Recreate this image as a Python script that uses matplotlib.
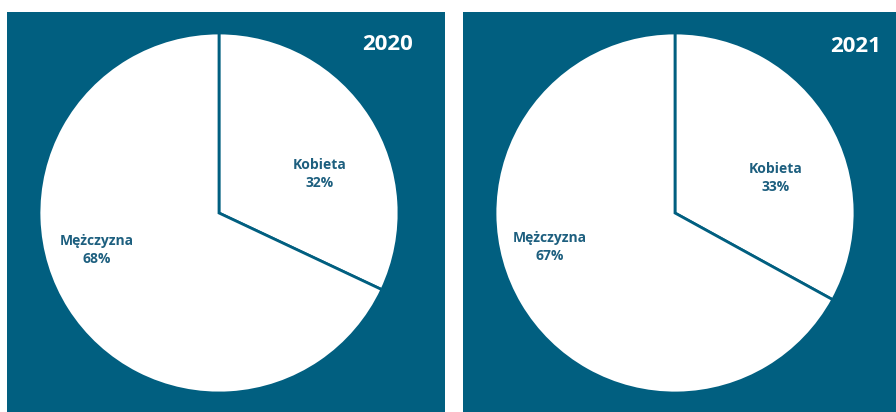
import matplotlib
matplotlib.use("Agg")
import matplotlib.pyplot as plt

BG_PANEL = "#015f80"
LABEL_COLOR = "#1d5f7f"

years = ["2020", "2021"]
categories = ["Kobieta", "Mężczyzna"]
shares_2020 = [32, 68]
shares_2021 = [33, 67]
shares = [shares_2020, shares_2021]

plt.rcParams["font.family"] = ["Open Sans", "DejaVu Sans"]

W, H = 896, 412
fig = plt.figure(figsize=(W / 100, H / 100), dpi=100, facecolor="white")

# panel rectangles in pixels (left, top, right, bottom)
panels = [(7, 12, 445, 412), (463, 12, 896, 412)]
centers = [(219, 213), (675, 213)]
radius = 180
# label offsets from pie centre (pixels, y down)
label_offsets = [
    [(101, -39), (-122, 37)],
    [(101, -35), (-125, 34)],
]
title_pos = [(388, 44), (856, 47)]

for i, (l, t, r, b) in enumerate(panels):
    ax = fig.add_axes([l / W, 1 - b / H, (r - l) / W, (b - t) / H])
    ax.set_facecolor(BG_PANEL)

    cx, cy = centers[i]
    # y axis runs downward (pixel coords), so counterclock=True draws clockwise
    ax.pie(
        shares[i],
        startangle=-90,
        counterclock=True,
        center=(cx, cy),
        radius=radius,
        colors=["white", "white"],
        wedgeprops=dict(edgecolor=BG_PANEL, linewidth=2.0),
        frame=True,
    )
    ax.set_xlim(l, r)
    ax.set_ylim(b, t)
    ax.set_aspect("equal")
    ax.set_xticks([])
    ax.set_yticks([])
    for s in ax.spines.values():
        s.set_visible(False)

    for cat, val, (dx, dy) in zip(categories, shares[i], label_offsets[i]):
        ax.text(cx + dx, cy + dy, f"{cat}\n{val}%", ha="center", va="center",
                fontsize=10, fontweight="bold", color=LABEL_COLOR,
                linespacing=1.4)

    tx, ty = title_pos[i]
    ax.text(tx, ty, years[i], ha="center", va="center", fontsize=16,
            fontweight="bold", color="white")

fig.savefig("out.png", dpi=100, facecolor="white")
